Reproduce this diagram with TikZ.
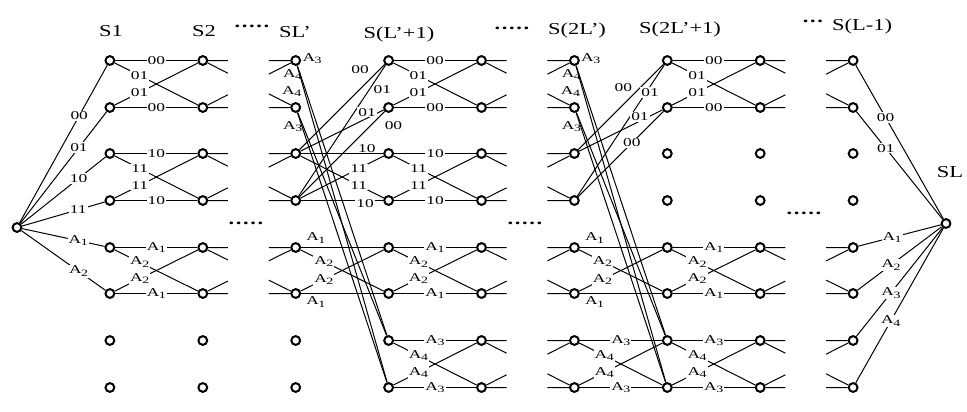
\documentclass[tikz,border=0pt]{standalone}
\usepackage{fontspec}
\setmainfont{Liberation Serif}[FakeStretch=1.35]
\newfontfamily\labfont{Liberation Serif}[FakeStretch=1.45]
\usetikzlibrary{calc}

\newcommand{\asym}[1]{A\kern-0.3pt\raisebox{-0.45ex}{\fontsize{7.2}{7.5}\selectfont #1}}
\newcommand{\fivedots}{\textbf{.\kern1.2pt.\kern1.2pt.\kern1.2pt.\kern1.2pt.}}
\newcommand{\threedots}{\textbf{.\kern1.2pt.\kern1.2pt.}}

\begin{document}
\begin{tikzpicture}[x=0.75pt, y=-0.75pt,
    state/.style={circle, draw=black, line width=1.5pt, minimum size=6.6pt, inner sep=0pt},
    branch/.style={line width=0.75pt},
    lbl/.style={font=\labfont\fontsize{9}{9.5}\selectfont, fill=white, inner sep=0.8pt},
    tag/.style={font=\labfont\fontsize{9}{9.5}\selectfont, inner sep=0pt},
    head/.style={font=\fontsize{12.5}{14}\selectfont, anchor=base, inner sep=0pt},
    gap/.style={font=\fontsize{12.5}{14}\selectfont, inner sep=0pt}]

    \useasboundingbox (0,0) rectangle (967,411);

    % states S1 ... S(L-1), eight rows each
    \foreach \c in {1,...,9}
      \foreach \r/\y in {1/60.5,2/107.5,3/153.5,4/200.5,5/247.5,6/293.5,7/340.5,8/387.5}
        \node[state] (s\c-\r) at ({17+92.9*\c},\y) {};
    \node[state] (s0) at (17,227.5) {};
    \node[state] (sL) at (946,223.5) {};

    % stage names
    \node[head] (h1) at (111,36) {S1};
    \node[head] (h2) at (204,36) {S2};
    \node[head] (h3) at (295,37) {SL'};
    \node[head] (h4) at (399,38) {S(L'+1)};
    \node[head] (h6) at (577,34) {S(2L')};
    \node[head] (h7) at (680,33) {S(2L'+1)};
    \node[head] (h9) at (862,30) {S(L-1)};
    \node[head] (hL) at (950,177) {SL};
    \node[gap] (d1) at (252,26) {\fivedots};
    \node[gap] (d2) at (512,28) {\fivedots};
    \node[gap] (d3) at (813,21) {\threedots};
    \node[gap] (m1) at (246,223) {\fivedots};
    \node[gap] (m2) at (525,223) {\fivedots};
    \node[gap] (m3) at (804,213) {\fivedots};

    % first and last stage
    \foreach \r/\t in {1/00, 2/01, 3/10, 4/11, 5/{\asym{1}}, 6/{\asym{2}}}
      \draw[branch] (s0) -- node[lbl, pos=0.68] {\t} (s1-\r);
    \foreach \r/\t/\p in {1/00/0.34, 2/01/0.34, 5/{\asym{1}}/0.41, 6/{\asym{2}}/0.4, 7/{\asym{3}}/0.4, 8/{\asym{4}}/0.4}
      \draw[branch] (s9-\r) -- node[lbl, pos=\p] {\t} (sL);

    % regular butterflies
    \foreach \a/\b/\p/\q/\u/\v in {1/2/1/2/00/01, 1/2/3/4/10/11, 1/2/5/6/{\asym{1}}/{\asym{2}},
        4/5/1/2/00/01, 4/5/3/4/10/11, 4/5/5/6/{\asym{1}}/{\asym{2}}, 4/5/7/8/{\asym{3}}/{\asym{4}},
        6/7/7/8/{\asym{3}}/{\asym{4}},
        7/8/1/2/00/01, 7/8/5/6/{\asym{1}}/{\asym{2}}, 7/8/7/8/{\asym{3}}/{\asym{4}}} {
      \draw[branch] (s\a-\p) -- node[lbl] {\u} (s\b-\p);
      \draw[branch] (s\a-\q) -- node[lbl] {\u} (s\b-\q);
      \draw[branch] (s\a-\p) -- node[lbl, pos=0.3] {\v} (s\b-\q);
      \draw[branch] (s\a-\q) -- node[lbl, pos=0.3] {\v} (s\b-\p);
    }

    % open ends towards the skipped stages
    \foreach \a/\b/\p/\q in {2/3/1/2, 2/3/3/4, 2/3/5/6, 5/6/1/2, 5/6/3/4, 5/6/5/6, 5/6/7/8,
        8/9/1/2, 8/9/5/6, 8/9/7/8} {
      \draw[branch] (s\a-\p) -- ($(s\a-\p)!0.27!(s\b-\p)$);
      \draw[branch] (s\a-\p) -- ($(s\a-\p)!0.27!(s\b-\q)$);
      \draw[branch] (s\a-\q) -- ($(s\a-\q)!0.27!(s\b-\q)$);
      \draw[branch] (s\a-\q) -- ($(s\a-\q)!0.27!(s\b-\p)$);
      \draw[branch] ($(s\b-\p)!0.29!(s\a-\p)$) -- (s\b-\p);
      \draw[branch] ($(s\b-\p)!0.29!(s\a-\q)$) -- (s\b-\p);
      \draw[branch] ($(s\b-\q)!0.29!(s\a-\q)$) -- (s\b-\q);
      \draw[branch] ($(s\b-\q)!0.29!(s\a-\p)$) -- (s\b-\q);
    }

    % stages L' and 2L': rows 1,2 jump down to rows 7,8
    \foreach \a/\b in {3/4, 6/7} {
      \draw[branch] (s\a-1) -- node[tag, at start, xshift=11pt, yshift=5.3pt] {\asym{3}} (s\b-7);
      \draw[branch] (s\a-1) -- node[tag, at start, xshift=-3.4pt, yshift=-6.7pt] {\asym{4}} (s\b-8);
      \draw[branch] (s\a-2) -- node[tag, at start, xshift=-4.5pt, yshift=15.7pt] {\asym{4}} (s\b-7);
      \draw[branch] (s\a-2) -- node[tag, at start, xshift=-3.5pt, yshift=-10.5pt] {\asym{3}} (s\b-8);
      % rows 5,6 keep their butterfly
      \draw[branch] (s\a-5) -- node[tag, pos=0.18, yshift=7pt] {\asym{1}} (s\b-5);
      \draw[branch] (s\a-5) -- node[lbl, pos=0.28] {\asym{2}} (s\b-6);
      \draw[branch] (s\a-6) -- node[lbl, pos=0.28] {\asym{2}} (s\b-5);
      \draw[branch] (s\a-6) -- node[tag, pos=0.18, yshift=-6.5pt] {\asym{1}} (s\b-6);
    }

    % rows 3,4 of stage L' open all four branches
    \draw[branch] (s3-3) -- node[tag, pos=0.71, yshift=15pt] {00} (s4-1);
    \draw[branch] (s3-4) -- node[tag, pos=0.81, xshift=10pt] {01} (s4-1);
    \draw[branch] (s3-3) -- node[lbl, pos=0.8, yshift=4.5pt] {01} (s4-2);
    \draw[branch] (s3-4) -- node[tag, at end, xshift=6.5pt, yshift=-10.7pt] {00} (s4-2);
    \draw[branch] (s3-3) -- node[lbl, pos=0.8, yshift=4pt] {10} (s4-3);
    \draw[branch] (s3-3) -- node[lbl, pos=0.7] {11} (s4-4);
    \draw[branch] (s3-4) -- node[lbl, pos=0.7] {11} (s4-3);
    \draw[branch] (s3-4) -- node[lbl, pos=0.78, yshift=-2pt] {10} (s4-4);

    % rows 3,4 of stage 2L' only go back to rows 1,2
    \draw[branch] (s6-3) -- node[tag, pos=0.53, yshift=12.5pt] {00} (s7-1);
    \draw[branch] (s6-4) -- node[lbl, pos=0.79, xshift=3pt] {01} (s7-1);
    \draw[branch] (s6-3) -- node[lbl, pos=0.73, yshift=3pt] {01} (s7-2);
    \draw[branch] (s6-4) -- node[lbl, pos=0.63] {00} (s7-2);

\end{tikzpicture}
\end{document}
